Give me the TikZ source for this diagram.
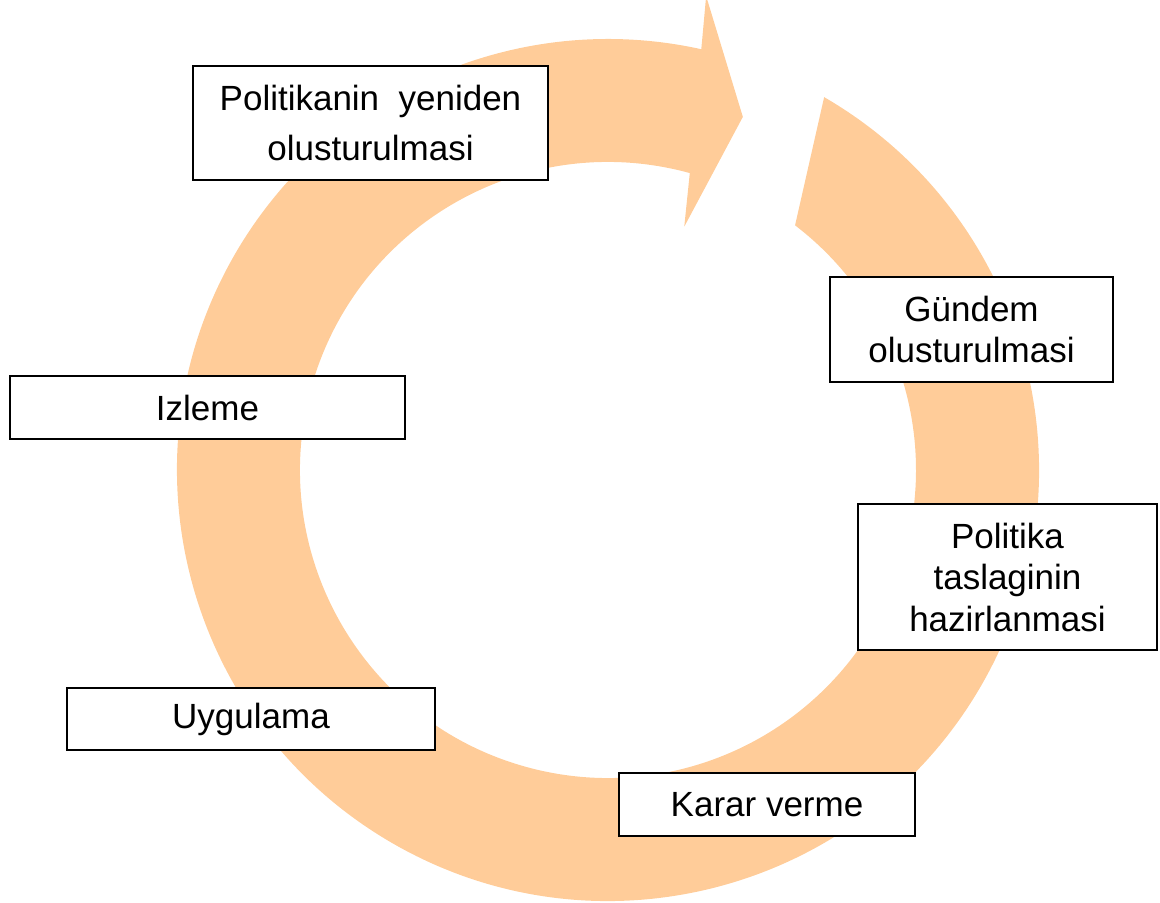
\documentclass[tikz,border=0pt]{standalone}
\usepackage{fontspec}
\setmainfont{Liberation Sans}
\definecolor{ringpeach}{RGB}{255,204,153}

\begin{document}
\begin{tikzpicture}[stage/.style={rectangle, draw, line width=1pt, fill=white, inner sep=0pt, align=center, font=\fontsize{17.5pt}{20.75pt}\selectfont}]
\useasboundingbox (0pt,0pt) rectangle (580pt,-451.5pt);
\begin{scope}
\clip (0pt,0pt) rectangle (580pt,-451.5pt);
\fill[ringpeach, shift={(304pt,-235pt)}]
    (59.9:215.5pt) arc[start angle=59.9, end angle=-282.5, radius=215.5pt]
    -- (78.3:242pt) -- (69.1:189pt) -- (72.6:127.5pt) -- (74.6:154pt)
    arc[start angle=-285.4, end angle=52.6, radius=154pt] -- cycle;
\end{scope}
\node[stage, minimum width=177.5pt, minimum height=57pt, font=\fontsize{17.5pt}{25pt}\selectfont]
    (1) at (185.25pt,-61.5pt) {Politikanin\ \ yeniden\\olusturulmasi};
\node[stage, minimum width=141.5pt, minimum height=52.5pt]
    (2) at (485.75pt,-164.75pt) {Gündem\\olusturulmasi};
\node[stage, minimum width=149.5pt, minimum height=73pt]
    (3) at (503.75pt,-288.5pt) {Politika\\taslaginin\\hazirlanmasi};
\node[stage, minimum width=148pt, minimum height=31.5pt]
    (4) at (383.5pt,-402.25pt) {Karar verme};
\node[stage, minimum width=184pt, minimum height=31pt]
    (5) at (125.5pt,-359.5pt) {Uygulama};
\node[stage, minimum width=197.5pt, minimum height=31.5pt]
    (6) at (103.75pt,-203.75pt) {Izleme};
\end{tikzpicture}
\end{document}
